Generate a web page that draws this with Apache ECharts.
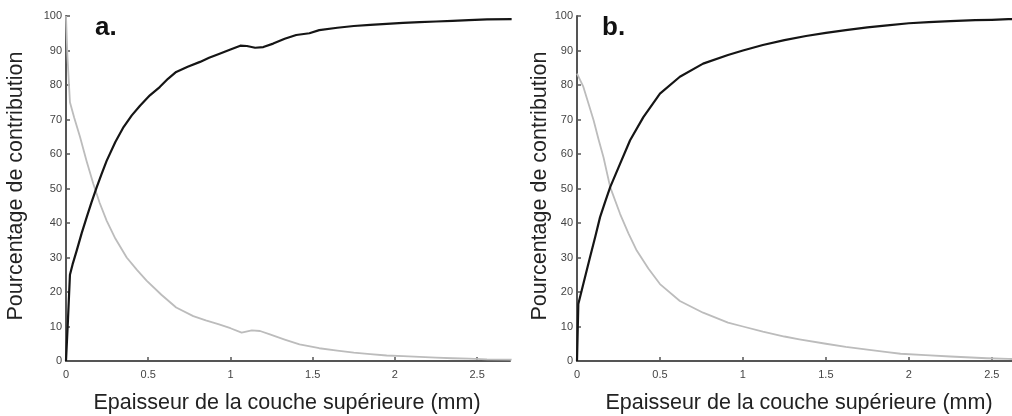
<!DOCTYPE html>
<html><head><meta charset="utf-8">
<script src="https://cdn.jsdelivr.net/npm/echarts@6/dist/echarts.min.js"></script>
<style>html,body{margin:0;padding:0;overflow:hidden;background:#fff}#c{width:1012px;height:416px}</style>
</head><body><div id="c"></div><script>
const xTicks = [0, 0.5, 1, 1.5, 2, 2.5];
const yTicks = [0, 10, 20, 30, 40, 50, 60, 70, 80, 90, 100];
const yTitle = 'Pourcentage de contribution';
const xTitle = 'Epaisseur de la couche supérieure (mm)';
const panelLabels = ['a.', 'b.'];

// Panel a
const aBlackX = [0, 0.012, 0.024, 0.04, 0.065, 0.095, 0.126, 0.155, 0.187, 0.215, 0.247, 0.3, 0.35, 0.4, 0.45, 0.51, 0.57, 0.62, 0.67, 0.74, 0.815, 0.87, 0.93, 1.0, 1.06, 1.1, 1.15, 1.2, 1.26, 1.33, 1.4, 1.48, 1.54, 1.65, 1.75, 1.85, 1.95, 2.05, 2.15, 2.25, 2.35, 2.45, 2.56, 2.71];
const aBlackY = [0, 12, 25, 28, 32, 37, 41.7, 46, 50.4, 54, 58, 63.5, 67.8, 71.2, 74, 77, 79.4, 81.8, 83.8, 85.3, 86.7, 87.9, 89, 90.3, 91.4, 91.3, 90.8, 91, 92, 93.4, 94.5, 95, 95.9, 96.6, 97.1, 97.4, 97.7, 98, 98.2, 98.4, 98.6, 98.8, 99, 99.1];
const aGrayX = [0, 0.008, 0.024, 0.05, 0.085, 0.125, 0.166, 0.205, 0.247, 0.3, 0.369, 0.43, 0.49, 0.58, 0.67, 0.774, 0.85, 0.926, 1.0, 1.068, 1.13, 1.18, 1.24, 1.33, 1.42, 1.54, 1.65, 1.75, 1.85, 1.95, 2.05, 2.15, 2.25, 2.35, 2.45, 2.56, 2.71];
const aGrayY = [100, 89, 75, 70.5, 65, 58, 51.4, 45.8, 40.7, 35.5, 30, 26.5, 23.3, 19.2, 15.5, 13, 11.8, 10.7, 9.5, 8.2, 8.9, 8.7, 7.7, 6.2, 4.8, 3.7, 3, 2.4, 2, 1.6, 1.4, 1.2, 1, 0.8, 0.7, 0.5, 0.4];

// Panel b
const bBlackX = [0, 0.008, 0.038, 0.078, 0.11, 0.139, 0.17, 0.2, 0.26, 0.32, 0.4, 0.5, 0.62, 0.76, 0.91, 1.0, 1.12, 1.25, 1.38, 1.5, 1.62, 1.75, 1.87, 2.0, 2.12, 2.25, 2.4, 2.5, 2.6, 2.7];
const bBlackY = [0, 16.5, 22.3, 30, 36, 41.7, 46.2, 50.4, 57.2, 64, 70.7, 77.5, 82.4, 86.2, 88.7, 90, 91.6, 93, 94.2, 95.1, 95.9, 96.7, 97.3, 97.9, 98.2, 98.5, 98.8, 98.9, 99.1, 99.2];
const bGrayX = [0, 0.038, 0.07, 0.1, 0.13, 0.16, 0.2, 0.26, 0.31, 0.36, 0.43, 0.5, 0.62, 0.76, 0.91, 1.0, 1.12, 1.25, 1.34, 1.5, 1.62, 1.75, 1.87, 1.95, 2.1, 2.25, 2.47, 2.6, 2.7];
const bGrayY = [83.3, 79.5, 74.5, 69.8, 64.2, 59, 50.4, 42.6, 37, 32, 26.8, 22.3, 17.4, 14, 11.1, 10, 8.5, 7.1, 6.3, 5, 4.1, 3.3, 2.6, 2.1, 1.7, 1.3, 0.8, 0.6, 0.5];

const FONT = 'Liberation Sans, Arial, sans-serif';
const zip = (xs, ys) => xs.map((x, i) => [x, ys[i]]);
const axisLineStyle = { color: '#555', width: 2 };

function xAxis(idx) {
  return {
    type: 'value', gridIndex: idx, min: 0, max: 2.7,
    axisLine: { show: true, onZero: false, lineStyle: axisLineStyle },
    axisTick: { show: true, inside: true, length: 4, customValues: xTicks, lineStyle: { color: '#555', width: 1.5 } },
    axisLabel: { show: true, customValues: xTicks, color: '#444', fontSize: 11, fontFamily: FONT, margin: 8 },
    splitLine: { show: false }
  };
}
function yAxis(idx) {
  return {
    type: 'value', gridIndex: idx, min: 0, max: 100, interval: 10,
    axisLine: { show: true, onZero: false, lineStyle: axisLineStyle },
    axisTick: { show: true, inside: true, length: 4, customValues: yTicks, lineStyle: { color: '#555', width: 1.5 } },
    axisLabel: { show: true, customValues: yTicks, color: '#444', fontSize: 11, fontFamily: FONT, margin: 4 },
    splitLine: { show: false }
  };
}
function line(idx, data, color, width, z) {
  return {
    type: 'line', xAxisIndex: idx, yAxisIndex: idx, data: data,
    showSymbol: false, symbol: 'none', smooth: false, z: z,
    lineStyle: { color: color, width: width, join: 'round' }, animation: false
  };
}
function txt(x, y, text, size, opts) {
  return Object.assign({
    type: 'text', x: x, y: y, silent: true,
    style: Object.assign({
      text: text, fontSize: size, fontFamily: FONT, fill: '#222',
      align: 'center', verticalAlign: 'middle', textAlign: 'center', textVerticalAlign: 'middle'
    }, opts && opts.style || {})
  }, opts && opts.el || {});
}

const chart = echarts.init(document.getElementById('c'), null, { renderer: 'canvas' });
chart.setOption({
  animation: false,
  backgroundColor: '#fff',
  grid: [
    { left: 66, top: 16, width: 444, bottom: 55, containLabel: false, outerBoundsMode: 'none' },
    { left: 577, top: 16, width: 448, bottom: 55, containLabel: false, outerBoundsMode: 'none' }
  ],
  xAxis: [xAxis(0), xAxis(1)],
  yAxis: [yAxis(0), yAxis(1)],
  series: [
    line(0, zip(aGrayX, aGrayY), '#bcbcbc', 1.8, 2),
    line(0, zip(aBlackX, aBlackY), '#151515', 2.2, 3),
    line(1, zip(bGrayX, bGrayY), '#bcbcbc', 1.8, 2),
    line(1, zip(bBlackX, bBlackY), '#151515', 2.2, 3)
  ],
  graphic: [
    txt(16, 186, yTitle, 21.5, { el: { rotation: Math.PI / 2 } }),
    txt(540, 186, yTitle, 21.5, { el: { rotation: Math.PI / 2 } }),
    txt(287, 403, xTitle, 21.5),
    txt(799, 403, xTitle, 21.5),
    txt(95, 28, panelLabels[0], 26, { style: { fontWeight: 'bold', fill: '#111', align: 'left', textAlign: 'left' } }),
    txt(602, 28, panelLabels[1], 26, { style: { fontWeight: 'bold', fill: '#111', align: 'left', textAlign: 'left' } })
  ]
});
</script></body></html>
